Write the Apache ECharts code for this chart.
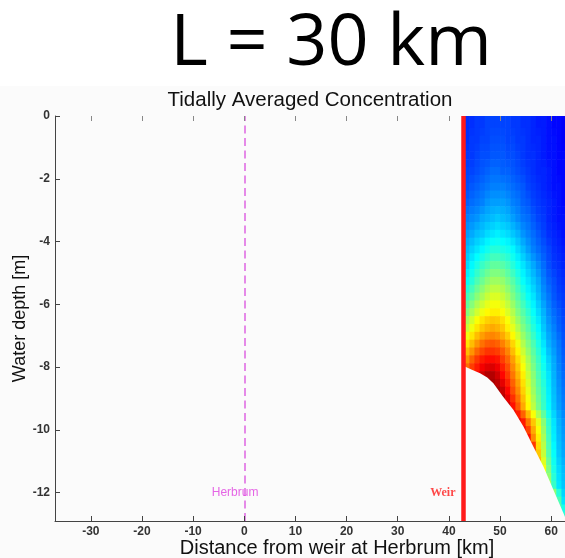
<!DOCTYPE html>
<html><head><meta charset="utf-8">
<script src="https://cdn.jsdelivr.net/npm/echarts@6/dist/echarts.min.js"></script>
<style>html,body{margin:0;padding:0;background:#fff}#c{width:565px;height:558px}</style>
</head><body><div id="c"></div>
<script>
const figureTitle = 'L = 30 km';
const chartTitle = 'Tidally Averaged Concentration';
const xName = 'Distance from weir at Herbrum [km]';
const yName = 'Water depth [m]';
const xTicks = [-30, -20, -10, 0, 10, 20, 30, 40, 50, 60];
const yTicks = [0, -2, -4, -6, -8, -10, -12];
const xRange = [-37, 62.7];
const yRange = [-12.9, 0];
// column edges (km) and row edges (m below surface) of the concentration cells
const colEdges = [43, 44, 45, 46, 47, 48, 49, 50, 51, 52, 53, 54, 55, 56, 57, 58, 59, 60, 61, 62, 63];
const depthEdges = [0, 0.375, 0.625, 0.875, 1.125, 1.375, 1.625, 1.875, 2.125, 2.375, 2.625, 2.875, 3.125, 3.375, 3.625, 3.875, 4.125, 4.375, 4.625, 4.875, 5.125, 5.375, 5.625, 5.875, 6.125, 6.375, 6.625, 6.875, 7.125, 7.375, 7.625, 7.875, 8.125, 8.375, 8.625, 8.875, 9.125, 9.375, 9.625, 9.875, 10.125, 10.375, 10.625, 10.875, 11.125, 11.375, 11.625, 11.875, 12.125, 12.375, 12.625, 13];
const _ = null;
// normalised tidally averaged concentration, one row per depth band (null = below the bed)
const concentration = [
  [.17,.17,.18,.18,.19,.19,.19,.19,.19,.18,.18,.17,.17,.16,.15,.15,.14,.13,.13,.12],
  [.17,.175,.18,.185,.19,.195,.195,.195,.19,.185,.18,.175,.17,.16,.155,.15,.14,.135,.13,.12],
  [.17,.18,.18,.19,.19,.20,.20,.20,.19,.19,.18,.18,.17,.16,.16,.15,.14,.14,.13,.12],
  [.175,.18,.185,.195,.195,.205,.205,.205,.195,.195,.185,.18,.17,.165,.16,.15,.14,.14,.13,.125],
  [.18,.18,.19,.20,.20,.21,.21,.21,.20,.20,.19,.18,.17,.17,.16,.15,.14,.14,.13,.13],
  [.185,.185,.195,.205,.21,.22,.22,.215,.21,.205,.195,.185,.175,.17,.16,.155,.145,.14,.13,.13],
  [.19,.19,.20,.21,.22,.23,.23,.22,.22,.21,.20,.19,.18,.17,.16,.16,.15,.14,.13,.13],
  [.195,.20,.21,.22,.23,.24,.24,.235,.23,.22,.21,.20,.185,.175,.165,.16,.15,.14,.135,.13],
  [.20,.21,.22,.23,.24,.25,.25,.25,.24,.23,.22,.21,.19,.18,.17,.16,.15,.14,.14,.13],
  [.21,.22,.23,.24,.255,.265,.265,.265,.255,.24,.23,.215,.20,.185,.175,.165,.155,.145,.14,.13],
  [.22,.23,.24,.25,.27,.28,.28,.28,.27,.25,.24,.22,.21,.19,.18,.17,.16,.15,.14,.13],
  [.235,.245,.255,.27,.285,.295,.30,.295,.285,.265,.25,.23,.22,.20,.185,.175,.16,.15,.14,.135],
  [.25,.26,.27,.29,.30,.31,.32,.31,.30,.28,.26,.24,.23,.21,.19,.18,.16,.15,.14,.14],
  [.265,.275,.29,.305,.32,.33,.34,.33,.32,.30,.28,.255,.24,.22,.20,.185,.165,.155,.145,.14],
  [.28,.29,.31,.32,.34,.35,.36,.35,.34,.32,.30,.27,.25,.23,.21,.19,.17,.16,.15,.14],
  [.295,.31,.33,.345,.365,.38,.385,.375,.365,.345,.32,.29,.265,.24,.22,.20,.18,.165,.155,.145],
  [.31,.33,.35,.37,.39,.41,.41,.40,.39,.37,.34,.31,.28,.25,.23,.21,.19,.17,.16,.15],
  [.325,.35,.375,.40,.42,.44,.44,.43,.415,.39,.36,.33,.30,.27,.245,.22,.195,.175,.165,.155],
  [.34,.37,.40,.43,.45,.47,.47,.46,.44,.41,.38,.35,.32,.29,.26,.23,.20,.18,.17,.16],
  [.36,.39,.425,.455,.48,.50,.50,.49,.465,.435,.40,.365,.335,.305,.275,.24,.21,.19,.175,.165],
  [.38,.41,.45,.48,.51,.53,.53,.52,.49,.46,.42,.38,.35,.32,.29,.25,.22,.20,.18,.17],
  [.41,.44,.48,.51,.54,.56,.56,.545,.515,.48,.44,.40,.365,.335,.30,.26,.23,.205,.185,.175],
  [.44,.47,.51,.54,.57,.59,.59,.57,.54,.50,.46,.42,.38,.35,.31,.27,.24,.21,.19,.18],
  [.47,.505,.545,.575,.60,.615,.615,.595,.565,.525,.48,.44,.40,.365,.325,.285,.25,.22,.20,.185],
  [.50,.54,.58,.61,.63,.64,.64,.62,.59,.55,.50,.46,.42,.38,.34,.30,.26,.23,.21,.19],
  [.54,.58,.62,.65,.67,.68,.675,.655,.62,.575,.525,.48,.44,.395,.355,.31,.27,.24,.215,.195],
  [.57,.61,.65,.68,.70,.71,.70,.68,.64,.60,.55,.50,.46,.41,.37,.32,.28,.25,.22,.20],
  [.61,.65,.69,.72,.74,.745,.735,.71,.675,.63,.58,.525,.48,.43,.385,.335,.29,.26,.23,.205],
  [.65,.69,.73,.765,.785,.79,.78,.75,.715,.665,.61,.55,.50,.45,.40,.35,.30,.27,.24,.21],
  [.69,.73,.775,.805,.825,.825,.815,.785,.745,.69,.635,.575,.52,.465,.415,.365,.315,.28,.245,.215],
  [.73,.78,.82,.85,.865,.865,.855,.815,.775,.72,.66,.60,.54,.48,.43,.38,.33,.29,.25,.22],
  [.77,.815,.85,.885,.905,.91,.89,.845,.80,.74,.68,.62,.555,.495,.44,.39,.34,.295,.255,.225],
  [_,_,.88,.92,.95,.95,.92,.87,.82,.76,.70,.64,.57,.51,.45,.40,.35,.30,.26,.23],
  [_,_,_,_,.96,.96,.94,.90,.845,.78,.72,.655,.585,.52,.46,.41,.355,.305,.265,.235],
  [_,_,_,_,_,_,.96,.93,.87,.80,.74,.67,.60,.53,.47,.42,.36,.31,.27,.24],
  [_,_,_,_,_,_,_,.95,.90,.83,.765,.69,.615,.545,.48,.425,.365,.315,.275,.245],
  [_,_,_,_,_,_,_,_,.93,.86,.79,.71,.63,.56,.49,.43,.37,.32,.28,.25],
  [_,_,_,_,_,_,_,_,_,.90,.85,.78,.695,.62,.545,.47,.395,.335,.29,.26],
  [_,_,_,_,_,_,_,_,_,_,.90,.85,.76,.68,.60,.51,.42,.35,.30,.27],
  [_,_,_,_,_,_,_,_,_,_,_,.87,.81,.71,.62,.525,.43,.355,.305,.275],
  [_,_,_,_,_,_,_,_,_,_,_,_,.86,.74,.64,.54,.44,.36,.31,.28],
  [_,_,_,_,_,_,_,_,_,_,_,_,_,.82,.66,.555,.45,.37,.315,.285],
  [_,_,_,_,_,_,_,_,_,_,_,_,_,.80,.68,.57,.46,.38,.32,.29],
  [_,_,_,_,_,_,_,_,_,_,_,_,_,_,.70,.595,.48,.39,.33,.30],
  [_,_,_,_,_,_,_,_,_,_,_,_,_,_,_,.62,.50,.40,.34,.31],
  [_,_,_,_,_,_,_,_,_,_,_,_,_,_,_,_,.52,.415,.345,.315],
  [_,_,_,_,_,_,_,_,_,_,_,_,_,_,_,_,.54,.43,.35,.32],
  [_,_,_,_,_,_,_,_,_,_,_,_,_,_,_,_,_,.51,.41,.335],
  [_,_,_,_,_,_,_,_,_,_,_,_,_,_,_,_,_,_,.45,.35],
  [_,_,_,_,_,_,_,_,_,_,_,_,_,_,_,_,_,_,.45,.40],
  [_,_,_,_,_,_,_,_,_,_,_,_,_,_,_,_,_,_,_,.42]
];
// river bed profile (km, m below surface)
const bedX = [43.0, 43.3, 44.5, 46.1, 47.5, 48.7, 50.6, 52.6, 54.6, 56.5, 58.5, 60.4, 62.4, 63.0, 64.0];
const bedDepth = [7.97, 7.98, 8.08, 8.19, 8.33, 8.51, 8.94, 9.36, 9.9, 10.53, 11.17, 11.9, 12.65, 12.9, 13.3];
const weirX = 42.9;
const herbrumX = 0;
const herbrumLabel = [-1.8, -12];
const weirLabel = [41.3, -12];

const cells = [];
for (let r = 0; r < concentration.length; r++) {
  for (let c = 0; c < concentration[r].length; c++) {
    const v = concentration[r][c];
    if (v == null) continue;
    cells.push([colEdges[c], colEdges[c + 1], -depthEdges[r], -depthEdges[r + 1], v]);
  }
}
const bed = bedX.map((x, i) => [x, -bedDepth[i]]);

const sans = '"Liberation Sans", Arial, sans-serif';
const chart = echarts.init(document.getElementById('c'), null, {renderer: 'canvas'});
chart.setOption({
  animation: false,
  backgroundColor: '#ffffff',
  graphic: [{type: 'rect', z: -10, silent: true, shape: {x: 0, y: 86, width: 565, height: 472}, style: {fill: '#fbfbfb'}}],
  title: [
    {text: figureTitle, left: 331, top: 8, padding: 0, textAlign: 'center',
     textStyle: {fontFamily: '"Open Sans", sans-serif', fontSize: 72, fontWeight: 'normal', color: '#000'}},
    {text: chartTitle, left: 310, top: 90, padding: 0, textAlign: 'center',
     textStyle: {fontFamily: sans, fontSize: 20.5, fontWeight: 'normal', color: '#111'}}
  ],
  grid: {left: 55, top: 116, right: 0, bottom: 37, containLabel: false, outerBoundsMode: 'none'},
  visualMap: {
    show: false, type: 'continuous', min: 0, max: 1, dimension: 4, seriesIndex: 0,
    inRange: {color: ['#000080', '#0000ff', '#0080ff', '#00ffff', '#80ff80', '#ffff00', '#ff8000', '#ff0000', '#800000']}
  },
  xAxis: [
    {type: 'value', position: 'bottom', min: xRange[0], max: xRange[1], z: 10,
     axisLine: {onZero: false, lineStyle: {color: '#444', width: 1}},
     axisTick: {inside: true, length: 5, customValues: xTicks, lineStyle: {color: '#444'}},
     axisLabel: {customValues: xTicks, fontSize: 12, fontWeight: 'bold', color: '#333', margin: 5, fontFamily: sans},
     splitLine: {show: false},
     name: xName, nameLocation: 'middle', nameGap: 17, nameMoveOverlap: false,
     nameTextStyle: {fontFamily: sans, fontSize: 20, color: '#111', padding: [0, 0, 0, 54]}},
    {type: 'value', position: 'top', min: xRange[0], max: xRange[1], z: 10,
     axisLine: {show: false, onZero: false},
     axisTick: {inside: true, length: 5, customValues: xTicks, lineStyle: {color: '#888'}},
     axisLabel: {show: false}, splitLine: {show: false}}
  ],
  yAxis: {
    type: 'value', min: yRange[0], max: yRange[1], z: 10,
    axisLine: {show: true, onZero: false, lineStyle: {color: '#444', width: 1}},
    axisTick: {show: true, inside: true, length: 5, customValues: yTicks, lineStyle: {color: '#444'}},
    axisLabel: {customValues: yTicks, fontSize: 12, fontWeight: 'bold', color: '#333', margin: 5, fontFamily: sans},
    splitLine: {show: false},
    name: yName, nameLocation: 'middle', nameGap: 26, nameRotate: 90, nameMoveOverlap: false,
    nameTextStyle: {fontFamily: sans, fontSize: 18, color: '#111'}
  },
  series: [
    {type: 'custom', name: 'concentration', clip: true, z: 2, silent: true,
     encode: {x: [0, 1], y: [2, 3]},
     data: cells,
     renderItem: function (params, api) {
       const p0 = api.coord([api.value(0), api.value(2)]);
       const p1 = api.coord([api.value(1), api.value(3)]);
       return {type: 'rect',
         shape: {x: p0[0], y: p0[1], width: p1[0] - p0[0] + 0.6, height: p1[1] - p0[1] + 0.6},
         style: {fill: api.visual('color')}};
     }},
    {type: 'line', name: 'bed', data: bed, clip: true, z: 3, silent: true,
     showSymbol: false, symbol: 'none',
     lineStyle: {width: 0},
     areaStyle: {color: '#fbfbfb', opacity: 1, origin: 'start'},
     markLine: {
       silent: true, symbol: 'none', label: {show: false},
       data: [
         {xAxis: weirX, lineStyle: {color: '#ff1a1a', width: 4.5, type: 'solid'}},
         {xAxis: herbrumX, lineStyle: {color: '#e58ae8', width: 2, type: [8, 4.5]}}
       ]
     }},
    {type: 'scatter', name: 'labels', symbolSize: 0, z: 5, silent: true,
     data: [
       {value: herbrumLabel, label: {show: true, position: 'inside', formatter: 'Herbrum', color: '#e040e0', fontSize: 12, fontFamily: sans}},
       {value: weirLabel, label: {show: true, position: 'inside', align: 'right', formatter: 'Weir', color: '#ff1a1a', fontSize: 12, fontWeight: 'bold', fontFamily: '"Liberation Serif", serif'}}
     ]}
  ]
});
</script></body></html>
